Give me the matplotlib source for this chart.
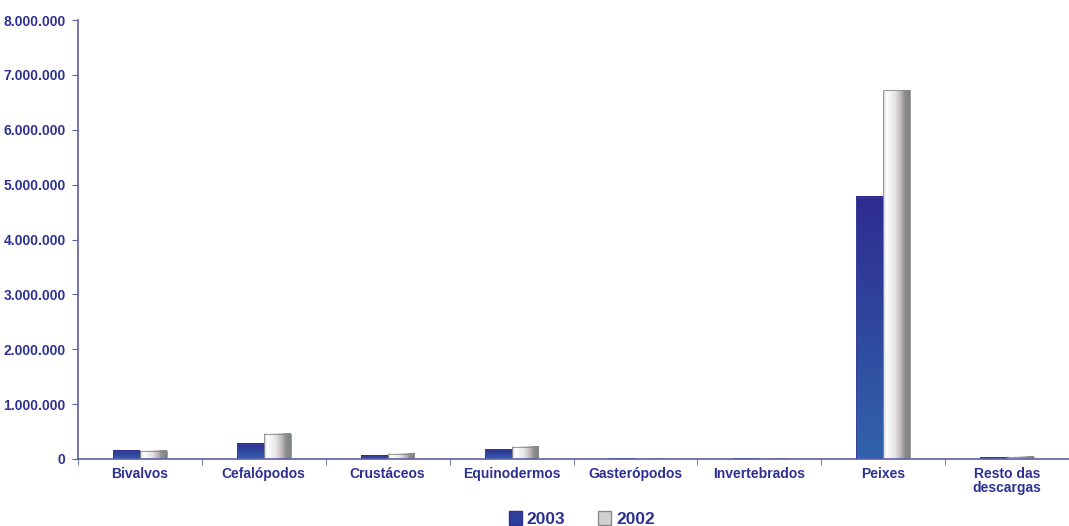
import matplotlib
matplotlib.use("Agg")
import matplotlib.pyplot as plt
import numpy as np
from matplotlib.colors import LinearSegmentedColormap
from matplotlib.patches import Patch

categories = ["Bivalvos", "Cefalópodos", "Crustáceos", "Equinodermos",
              "Gasterópodos", "Invertebrados", "Peixes", "Resto das\ndescargas"]
v2003 = [150000, 280000, 60000, 180000, 800, 600, 4780000, 30000]
v2002 = [150000, 460000, 95000, 220000, 800, 600, 6720000, 40000]
yticks = [0, 1000000, 2000000, 3000000, 4000000, 5000000, 6000000, 7000000, 8000000]
ylabels = ["0", "1.000.000", "2.000.000", "3.000.000", "4.000.000",
           "5.000.000", "6.000.000", "7.000.000", "8.000.000"]

txt = "#2E3192"
axc = "#5B5FA8"
plt.rcParams['font.family'] = ['Liberation Sans', 'DejaVu Sans']

blue_cm = LinearSegmentedColormap.from_list("b", ["#3163AC", "#2E2C8F"])
grey_cm = LinearSegmentedColormap.from_list("g", [
    (0.0, "#CFCFCF"), (0.12, "#FFFFFF"), (0.45, "#E6E4E4"),
    (0.68, "#BDB5B5"), (0.8, "#8C918E"), (1.0, "#7F8380")])

fig = plt.figure(figsize=(10.69, 5.26), dpi=100)
ax = fig.add_axes([78 / 1069, 67 / 526, 991 / 1069, 439 / 526])

w = 0.216
x = np.arange(len(categories))
vgrad = np.linspace(0, 1, 100).reshape(-1, 1)
hgrad = np.linspace(0, 1, 100).reshape(1, -1)
for i in x:
    a, b = v2003[i], v2002[i]
    ax.imshow(vgrad, extent=[i - w, i, 0, a], origin="lower", aspect="auto",
              cmap=blue_cm, zorder=2, interpolation="bilinear")
    ax.imshow(hgrad, extent=[i, i + w, 0, b], origin="lower", aspect="auto",
              cmap=grey_cm, zorder=2, interpolation="bilinear")
ax.bar(x - w / 2, v2003, w, facecolor="none", edgecolor="#3A3F9A", linewidth=0.6, zorder=3)
ax.bar(x + w / 2, v2002, w, facecolor="none", edgecolor="#8A8A8A", linewidth=0.6, zorder=3)

ax.set_xlim(-0.5, 7.43)
ax.set_ylim(0, 8000000)

for s in ["top", "right"]:
    ax.spines[s].set_visible(False)
for s in ["left", "bottom"]:
    ax.spines[s].set_color(axc)
    ax.spines[s].set_linewidth(1.2)

ax.set_yticks(yticks)
ax.set_yticklabels(ylabels)
ax.set_xticks(x)
ax.set_xticklabels(categories)
ax.set_xticks(np.arange(-0.5, 8.0, 1.0), minor=True)
ax.tick_params(axis="x", which="major", length=0, pad=6, labelsize=10, labelcolor=txt)
ax.tick_params(axis="x", which="minor", length=4, color=axc, direction="out")
ax.tick_params(axis="y", length=4, color=axc, labelsize=10, labelcolor=txt, pad=5)
for t in ax.get_xticklabels() + ax.get_yticklabels():
    t.set_fontweight("bold")
for t in ax.get_xticklabels():
    t.set_linespacing(1.0)

handles = [Patch(facecolor="#2F3E9A", edgecolor="#2E3192", label="2003"),
           Patch(facecolor="#D0D0D0", edgecolor="#8A8A8A", label="2002")]
leg = fig.legend(handles=handles, loc="center", bbox_to_anchor=(582 / 1069, 1 - 519 / 526),
                 ncol=2, frameon=False, handlelength=0.75, handleheight=0.9,
                 handletextpad=0.3, columnspacing=1.9,
                 prop={"weight": "bold", "size": 12.5})
for t in leg.get_texts():
    t.set_color(txt)

fig.savefig("out.png", dpi=100)
